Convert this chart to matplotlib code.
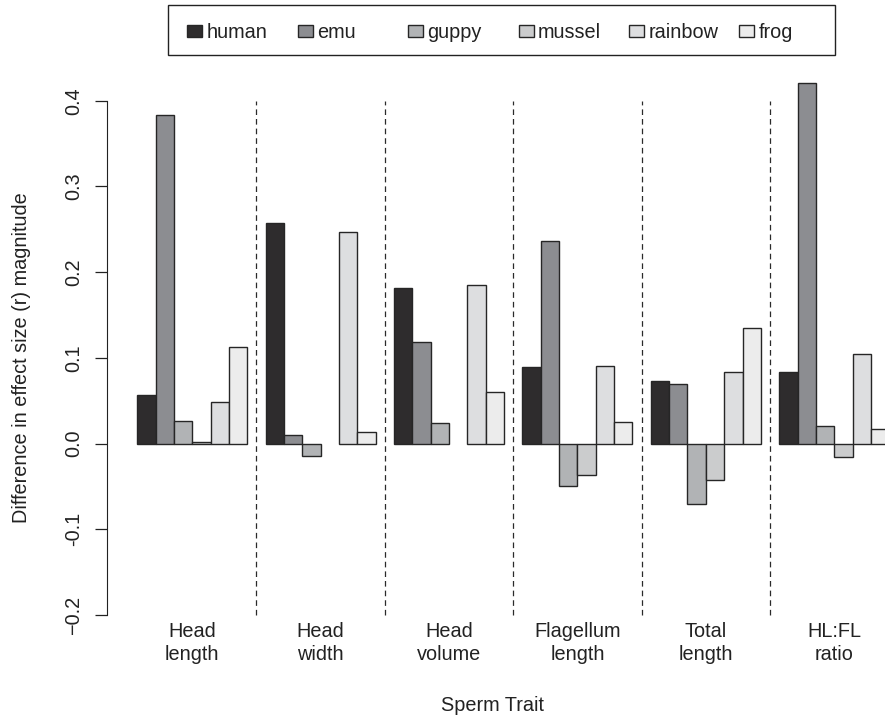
# Grouped bar chart: difference in effect size magnitude per sperm trait
import numpy as np
import matplotlib.pyplot as plt
from matplotlib.patches import Rectangle
from matplotlib.transforms import blended_transform_factory

plt.rcParams['font.family'] = ['Liberation Sans', 'DejaVu Sans']

# figure size in pixels
W, H = 885, 715

# data
traits = ["Head\nlength", "Head\nwidth", "Head\nvolume", "Flagellum\nlength", "Total\nlength", "HL:FL\nratio"]
species = ["human", "emu", "guppy", "mussel", "rainbow", "frog"]
colours = ["#2e2c2d", "#8c8d91", "#b1b3b5", "#cbcccd", "#dddee0", "#ececec"]

human = [0.057, 0.257, 0.181, 0.089, 0.073, 0.084]
emu = [0.383, 0.010, 0.119, 0.236, 0.070, 0.421]
guppy = [0.026, -0.014, 0.024, -0.050, -0.071, 0.021]
mussel = [0.002, np.nan, np.nan, -0.037, -0.042, -0.016]
rainbow = [0.048, 0.247, 0.185, 0.091, 0.084, 0.105]
frog = [0.113, 0.013, 0.060, 0.025, 0.135, 0.017]

series = [human, emu, guppy, mussel, rainbow, frog]
y_ticks = [-0.2, -0.1, 0.0, 0.1, 0.2, 0.3, 0.4]
y_ticklabels = ["\u22120.2", "-0.1", "0.0", "0.1", "0.2", "0.3", "0.4"]

n_sp = len(species)
gap = 1  # one bar width between groups (R style space=c(0,1))

fig = plt.figure(figsize=(W / 100, H / 100), dpi=100)

# axes placed in pixel units (right side runs off the figure as in the reference)
left_px, right_px, top_px, bot_px = 107.2, 919.3, 80.2, 635.6
ax = fig.add_axes([left_px / W, 1 - bot_px / H, (right_px - left_px) / W, (bot_px - top_px) / H])

group_w = n_sp + gap
for j, (vals, col) in enumerate(zip(series, colours)):
    for i, v in enumerate(vals):
        if np.isnan(v):
            continue
        ax.bar(1 + group_w * i + j, v, width=1, align='edge', color=col,
               edgecolor='#262626', linewidth=1.0)

# dashed separators between the groups
for i in range(1, len(traits)):
    ax.plot([group_w * i + 0.5] * 2, [-0.2, 0.4], color='#2a2a2a', lw=0.9,
            dashes=(4.5, 3.2))

ax.set_xlim(1 - 0.04 * 41, 42 + 0.04 * 41)
ax.set_ylim(-0.224, 0.424)

for s in ['top', 'right', 'bottom']:
    ax.spines[s].set_visible(False)
ax.spines['left'].set_bounds(-0.2, 0.4)
ax.spines['left'].set_color('#222222')
ax.set_xticks([])
ax.set_yticks(y_ticks)
ax.set_yticklabels(y_ticklabels, rotation=90, va='center', fontsize=14.3)
ax.tick_params(axis='y', length=8.6, width=0.9, pad=9, color='#222222', labelcolor='#222222')

# group labels under each set of bars
trans = blended_transform_factory(ax.transData, fig.transFigure)
for i, name in enumerate(traits):
    xc = 1 + group_w * i + n_sp / 2
    ax.text(xc, 1 - 660 / H, name, transform=trans, ha='center', va='baseline',
            fontsize=14.3, linespacing=1.25, color='#222222')

fig.text(493 / W, 1 - 711 / H, "Sperm Trait", ha='center', va='baseline',
         fontsize=14.3, color='#222222')
fig.text(22 / W, 1 - 358 / H, "Difference in effect size (r) magnitude", rotation=90,
         ha='center', va='center', fontsize=14.3, color='#222222')

# legend box at the top
fig.add_artist(Rectangle((168 / W, 1 - 55 / H), (835 - 168) / W, 50 / H,
                         transform=fig.transFigure, fill=False, edgecolor='#222222', lw=1.0))
for i, (sp, col) in enumerate(zip(species, colours)):
    x0 = 187.3 + 110.4 * i
    fig.add_artist(Rectangle((x0 / W, 1 - 37 / H), 15 / W, 12 / H, transform=fig.transFigure,
                             facecolor=col, edgecolor='#262626', lw=1.0))
    fig.text((x0 + 19.4) / W, 1 - 37.5 / H, sp, ha='left', va='baseline',
             fontsize=14.3, color='#222222')

fig.savefig("out.png", dpi=100)
